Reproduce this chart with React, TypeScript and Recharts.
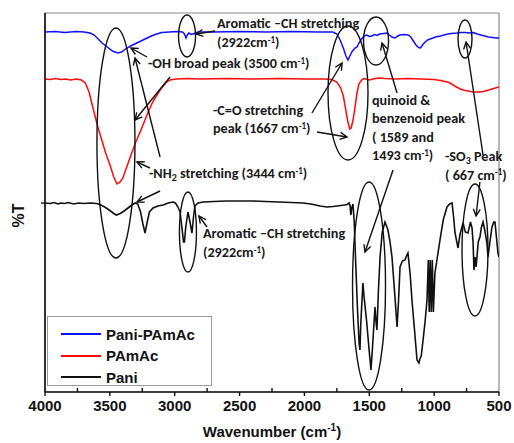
import React from "react";
import {
  LineChart,
  Line,
  XAxis,
  YAxis,
  ReferenceArea,
  ReferenceDot,
  ReferenceLine,
} from "recharts";

// FTIR spectra, [wavenumber (cm-1), %T offset]
const paniPamac = [
  [4000, 360], [3920, 360.5], [3850, 359.5], [3760, 360.5], [3700, 360], [3653, 359],
  [3620, 357], [3590, 353], [3560, 349], [3520, 345], [3480, 341], [3440, 339],
  [3410, 340], [3380, 343], [3340, 346], [3300, 348.5], [3260, 351], [3220, 353.5],
  [3180, 356], [3140, 358], [3100, 359.5], [3040, 360], [2980, 360.5], [2940, 360],
  [2925, 358], [2913, 354], [2903, 357], [2890, 359], [2870, 357.5], [2850, 358.5],
  [2820, 360], [2700, 360], [2500, 360.5], [2300, 360], [2100, 360.5], [1900, 360],
  [1780, 360], [1750, 358], [1725, 352], [1700, 344], [1680, 336], [1664, 332],
  [1650, 336], [1630, 341], [1610, 344], [1595, 345], [1580, 349], [1560, 353],
  [1540, 356], [1518, 357], [1500, 355.5], [1480, 356], [1460, 357.5], [1440, 356.5],
  [1420, 358], [1390, 358.5], [1364, 359], [1345, 357], [1325, 355], [1302, 354],
  [1286, 355.5], [1265, 357], [1230, 357.5], [1200, 357], [1180, 355], [1160, 351],
  [1140, 347], [1120, 344.5], [1105, 344], [1090, 347], [1070, 350], [1050, 352],
  [1020, 353.5], [990, 355], [950, 356], [910, 357.5], [870, 358.5], [824, 359],
  [790, 359.5], [760, 359.5], [730, 359], [700, 359.5], [667, 358], [640, 357],
  [610, 356], [580, 355], [550, 354.5], [520, 354], [500, 354],
];

const pamac = [
  [4000, 313], [3960, 312.5], [3920, 313.5], [3880, 312.5], [3840, 313], [3800, 312],
  [3760, 313], [3720, 312], [3690, 309], [3660, 300], [3630, 284], [3595, 266],
  [3560, 251], [3530, 238], [3499, 227], [3470, 215], [3445, 208], [3420, 210],
  [3400, 214], [3370, 225], [3340, 236], [3300, 250], [3260, 262], [3214, 277],
  [3170, 290], [3113, 302], [3070, 309], [3036, 312], [2990, 313], [2900, 313.5],
  [2800, 313], [2600, 313.5], [2400, 313], [2200, 313.5], [2000, 313], [1850, 313],
  [1790, 312.5], [1750, 310], [1720, 304], [1700, 296], [1680, 281], [1665, 270],
  [1650, 263], [1640, 264], [1625, 272], [1610, 285], [1595, 299], [1580, 308],
  [1560, 312], [1540, 313.5], [1500, 312], [1470, 313], [1430, 314], [1380, 313.5],
  [1300, 313], [1200, 313.5], [1100, 313], [1000, 312.5], [950, 311.5], [900, 310],
  [878, 309], [840, 306], [800, 303], [760, 301.5], [700, 300], [650, 300],
  [620, 300.5], [580, 302], [540, 303.5], [500, 305],
];

const pani = [
  [4000, 189], [3960, 188.5], [3930, 189.5], [3900, 188], [3880, 189], [3850, 188.5],
  [3820, 189.5], [3780, 188], [3740, 189], [3700, 188.5], [3650, 189], [3600, 188.5],
  [3570, 187], [3540, 185], [3500, 181.5], [3470, 178.5], [3450, 177], [3420, 178.5],
  [3390, 181], [3360, 184], [3330, 187], [3305, 189], [3285, 188], [3265, 181],
  [3245, 168], [3229, 159], [3212, 170], [3195, 180], [3167, 184], [3130, 186],
  [3090, 187], [3050, 189], [3013, 190], [2995, 189], [2975, 185], [2959, 180],
  [2945, 165], [2932, 150], [2925, 150], [2915, 165], [2898, 180], [2885, 172],
  [2867, 159], [2855, 175], [2844, 186], [2820, 189], [2780, 190], [2700, 190.5],
  [2600, 191], [2500, 191], [2400, 191], [2300, 190.5], [2200, 190], [2100, 189.5],
  [2011, 189], [1950, 188], [1880, 186], [1826, 185], [1780, 185.5], [1720, 186.5],
  [1690, 187], [1672, 187.5], [1655, 189], [1648, 186], [1642, 177], [1635, 184],
  [1626, 188], [1616, 170], [1605, 130], [1590, 80], [1578, 48], [1572, 42],
  [1565, 70], [1549, 109], [1540, 95], [1520, 70], [1500, 40], [1487, 22],
  [1475, 45], [1456, 85], [1448, 70], [1441, 62], [1430, 100], [1417, 135],
  [1400, 160], [1379, 170], [1356, 162], [1340, 150], [1325, 135], [1302, 95],
  [1286, 65], [1275, 90], [1263, 125], [1245, 131], [1225, 132], [1210, 137],
  [1202, 139], [1185, 118], [1171, 92], [1150, 60], [1132, 32], [1117, 29],
  [1110, 33], [1100, 36], [1094, 42], [1070, 70], [1055, 92], [1045, 132],
  [1038, 80], [1030, 132], [1022, 80], [1014, 132], [1006, 80], [994, 119],
  [975, 135], [955, 152], [930, 172], [901, 185], [880, 188], [862, 189],
  [850, 175], [839, 159], [816, 144], [800, 158], [777, 169], [760, 160],
  [739, 159], [720, 170], [708, 164], [700, 150], [693, 122], [685, 135],
  [677, 125], [670, 135], [660, 150], [647, 155], [635, 165], [623, 170],
  [610, 162], [593, 149], [585, 135], [570, 150], [554, 165], [540, 170],
  [531, 170], [520, 155], [508, 139], [500, 135],
];

const wavenumberTicks = [
  4000, 3750, 3500, 3250, 3000, 2750, 2500, 2250, 2000, 1750, 1500, 1250, 1000, 750, 500,
];

const series = [
  { name: "Pani-PAmAc", color: "#1010ff", points: paniPamac, width: 1.5 },
  { name: "PAmAc", color: "#ff0a0a", points: pamac, width: 1.5 },
  { name: "Pani", color: "#111111", points: pani, width: 1.6 },
];

// ellipses drawn around the bands: centre in data units, radii in px
const rings = [
  { wn: 2905, t: 356, rx: 8.5, ry: 21 },
  { wn: 3453, t: 249, rx: 19, ry: 115 },
  { wn: 2898, t: 160, rx: 8.5, ry: 40 },
  { wn: 1664, t: 299, rx: 20, ry: 67 },
  { wn: 1448, t: 351, rx: 12.5, ry: 24 },
  { wn: 762, t: 353, rx: 7, ry: 19 },
  { wn: 1502, t: 106, rx: 16.5, ry: 104 },
  { wn: 685, t: 142, rx: 13, ry: 66 },
];

// arrows, tail -> head
const arrows = [
  [[2689, 361], [2836, 358]],
  [[3214, 335], [3337, 344]],
  [[3113, 235], [3306, 334]],
  [[3036, 315], [3306, 272]],
  [[3191, 224], [3291, 230]],
  [[3113, 201], [3291, 190]],
  [[2751, 165], [2813, 176]],
  [[1942, 279], [1710, 329]],
  [[1903, 260], [1672, 255]],
  [[1286, 299], [1402, 349]],
  [[1317, 222], [1533, 140]],
  [[623, 237], [754, 350]],
  [[647, 210], [677, 176]],
];

// "_2" -> subscript, "^-1" -> superscript
const notes = [
  { wn: 2674, t: 369, lines: ["Aromatic \u2013CH stretching", "(2922cm^-1)"], gap: 19 },
  { wn: 3206, t: 329, lines: ["-OH broad peak (3500 cm^-1)"], gap: 18 },
  { wn: 2705, t: 282, lines: ["-C=O stretching", "peak (1667 cm^-1)"], gap: 18 },
  { wn: 3198, t: 219, lines: ["-NH_2 stretching (3444 cm^-1)"], gap: 18 },
  { wn: 1479, t: 292, lines: ["quinoid &", "benzenoid peak", "( 1589 and", "1493 cm^-1)"], gap: 18.4 },
  { wn: 916, t: 236, lines: ["-SO_3 Peak", "( 667 cm^-1)"], gap: 18.5 },
  { wn: 2782, t: 159, lines: ["Aromatic \u2013CH stretching", "(2922cm^-1)"], gap: 19 },
];

const toRows = (pts: number[][]) => pts.map(([wn, t]) => ({ wn, t }));

const noteFont = "Carlito, Lato, 'Open Sans', sans-serif";
const axisFont = "'Liberation Sans', Arial, sans-serif";

const Rich = ({ s }: { s: string }) => {
  const parts = s.split(/(_\d|\^-1)/).filter(Boolean);
  let shift = 0;
  return (
    <>
      {parts.map((p, i) => {
        let target = 0;
        let txt = p;
        let size: number | undefined;
        if (p.startsWith("_")) {
          target = 3;
          txt = p.slice(1);
          size = 10;
        } else if (p.startsWith("^")) {
          target = -4.5;
          txt = p.slice(1);
          size = 9;
        }
        const dy = target - shift;
        shift = target;
        return (
          <tspan key={i} dy={dy} fontSize={size}>
            {txt}
          </tspan>
        );
      })}
    </>
  );
};

const Arrow = (p: any) => {
  const { x1, y1, x2, y2 } = p;
  const a = Math.atan2(y2 - y1, x2 - x1);
  const h = 7;
  const w = 3.5;
  const bx = x2 - h * Math.cos(a);
  const by = y2 - h * Math.sin(a);
  const sx = w * Math.sin(a);
  const sy = w * Math.cos(a);
  return (
    <g stroke="#111" strokeWidth={1.4} fill="none">
      <line x1={x1} y1={y1} x2={x2} y2={y2} />
      <polyline points={`${bx + sx},${by - sy} ${x2},${y2} ${bx - sx},${by + sy}`} />
    </g>
  );
};

const XTick = (p: any) => {
  const { x, y, payload } = p;
  const major = payload.value % 500 === 0;
  return (
    <g>
      <line x1={x} x2={x} y1={y} y2={major ? y + 4 : y - 4} stroke="#111" strokeWidth={1.4} />
      {major && (
        <text
          x={x}
          y={y + 19}
          textAnchor="middle"
          fontSize={15}
          fontWeight="bold"
          fontFamily={axisFont}
          fill="#111"
        >
          {payload.value}
        </text>
      )}
    </g>
  );
};

const noTick = () => <g />;

export default function App() {
  return (
    <div style={{ position: "absolute", left: 0, top: 0, width: 514, height: 443, background: "#fff" }}>
      <LineChart width={514} height={443} margin={{ top: 13, right: 15, left: 8, bottom: 0 }}>
        <ReferenceArea
          x1={4000}
          x2={500}
          y1={0}
          y2={379}
          fill="none"
          stroke="#8a8a8a"
          strokeWidth={1.2}
          ifOverflow="visible"
        />
        <XAxis
          type="number"
          dataKey="wn"
          domain={[500, 4000]}
          reversed
          allowDataOverflow
          ticks={wavenumberTicks}
          interval={0}
          tick={XTick}
          tickLine={false}
          tickSize={0}
          tickMargin={0}
          height={51}
          axisLine={{ stroke: "#111", strokeWidth: 1.6 }}
          label={({ viewBox }: any) => (
            <text
              x={viewBox.x + viewBox.width / 2}
              y={viewBox.y + 45}
              textAnchor="middle"
              fontSize={15}
              fontWeight="bold"
              fontFamily={axisFont}
              fill="#111"
            >
              Wavenumber (cm
              <tspan dy={-6} fontSize={10}>
                -1
              </tspan>
              <tspan dy={6}>)</tspan>
            </text>
          )}
        />
        <YAxis
          type="number"
          domain={[0, 379]}
          allowDataOverflow
          width={37}
          ticks={[189]}
          tick={noTick}
          tickSize={4}
          tickLine={{ stroke: "#111", strokeWidth: 1.4 }}
          axisLine={{ stroke: "#111", strokeWidth: 1.6 }}
          label={({ viewBox }: any) => {
            const cx = viewBox.x + 10;
            const cy = viewBox.y + viewBox.height / 2 + 13;
            return (
              <text
                x={cx}
                y={cy}
                transform={`rotate(-90 ${cx} ${cy})`}
                textAnchor="middle"
                dominantBaseline="central"
                fontSize={16}
                fontWeight="bold"
                fontFamily={axisFont}
                fill="#111"
              >
                %T
              </text>
            );
          }}
        />
        {series.map((s) => (
          <Line
            key={s.name}
            name={s.name}
            data={toRows(s.points)}
            dataKey="t"
            type="linear"
            stroke={s.color}
            strokeWidth={s.width}
            dot={false}
            activeDot={false}
            isAnimationActive={false}
          />
        ))}
        {rings.map((r, i) => (
          <ReferenceDot
            key={`ring${i}`}
            x={r.wn}
            y={r.t}
            r={1}
            ifOverflow="visible"
            shape={(p: any) => (
              <ellipse cx={p.cx} cy={p.cy} rx={r.rx} ry={r.ry} fill="none" stroke="#111" strokeWidth={1.4} />
            )}
          />
        ))}
        {arrows.map(([a, b], i) => (
          <ReferenceLine
            key={`arrow${i}`}
            segment={[
              { x: a[0], y: a[1] },
              { x: b[0], y: b[1] },
            ]}
            ifOverflow="visible"
            shape={Arrow}
          />
        ))}
        {notes.map((n, i) => (
          <ReferenceDot
            key={`note${i}`}
            x={n.wn}
            y={n.t}
            r={1}
            ifOverflow="visible"
            shape={(p: any) => (
              <g>
                {n.lines.map((line, j) => (
                  <text
                    key={j}
                    x={p.cx}
                    y={p.cy + j * n.gap + 5}
                    fontSize={14.2}
                    fontWeight="bold"
                    fontFamily={noteFont}
                    fill="#1a1a1a"
                    style={{ whiteSpace: "pre" }}
                  >
                    <Rich s={line} />
                  </text>
                ))}
              </g>
            )}
          />
        ))}
      </LineChart>
      <div
        style={{
          position: "absolute",
          left: 47,
          top: 316,
          width: 163,
          height: 68,
          border: "1px solid #999",
          background: "#fff",
          fontFamily: axisFont,
          fontWeight: "bold",
          fontSize: 15,
          color: "#111",
        }}
      >
        {series.map((s, i) => (
          <div
            key={s.name}
            style={{ position: "absolute", left: 13, top: 7 + i * 21.5, height: 20, display: "flex", alignItems: "center" }}
          >
            <div style={{ width: 40, height: 2, background: s.color, marginRight: 5 }} />
            <span>{s.name}</span>
          </div>
        ))}
      </div>
    </div>
  );
}
